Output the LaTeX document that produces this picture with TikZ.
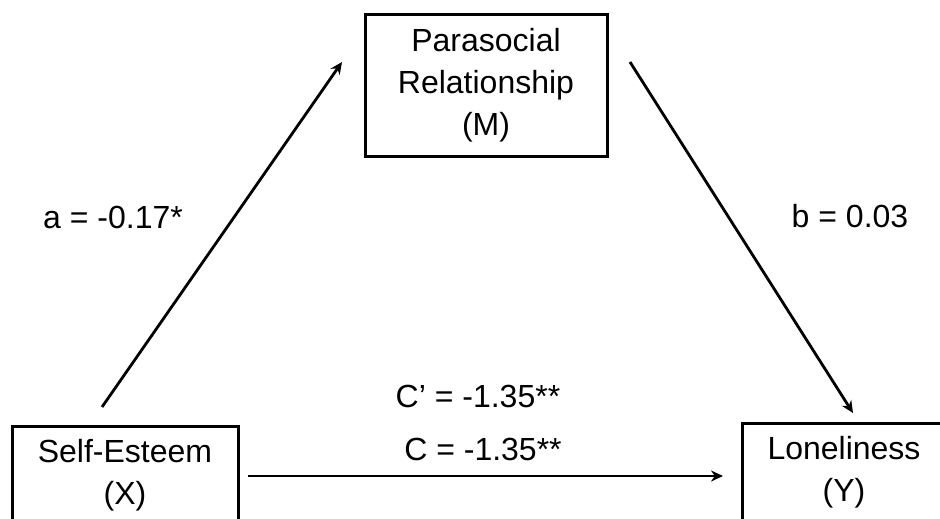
\documentclass[tikz,border=0pt]{standalone}
\usepackage{fontspec}
\setmainfont{Liberation Sans}
\usetikzlibrary{arrows.meta}
\begin{document}
\begin{tikzpicture}[x=1pt,y=-1pt,
  varbox/.style={draw=black,line width=3pt,align=center,inner sep=0pt,
    font=\fontsize{32}{42}\selectfont},
  path/.style={draw=black,line width=2.8pt,-{Stealth[length=12pt,width=11pt]}},
  lbl/.style={anchor=base,inner sep=0pt,font=\fontsize{32}{42}\selectfont}]
\useasboundingbox (0,0) rectangle (940,519);
\clip (0,0) rectangle (940,519);
\node[varbox,minimum width=242pt,minimum height=141pt] (m) at (486,85.5) {Parasocial\\Relationship\\(M)};
\node[varbox,minimum width=226pt,minimum height=98pt] (x) at (125,475) {Self-Esteem\\(X)};
\node[varbox,minimum width=212pt,minimum height=98pt] (y) at (848,472) {\hspace*{-8pt}Loneliness\\\hspace*{-8pt}(Y)};
\coordinate (a0) at (102,407);
\coordinate (a1) at (342,62);
\coordinate (b0) at (630,62);
\coordinate (b1) at (853,413);
\coordinate (c0) at (248,476);
\coordinate (c1) at (723,476);
\draw[path] (a0) -- (a1);
\draw[path] (b0) -- (b1);
\draw[path] (c0) -- (c1);
\node[lbl] (la) at (113,228) {a = -0.17*};
\node[lbl] (lb) at (850,227) {b = 0.03};
\node[lbl] (lc1) at (478,407) {C’ = -1.35**};
\node[lbl] (lc2) at (483,460) {C = -1.35**};
\end{tikzpicture}
\end{document}
